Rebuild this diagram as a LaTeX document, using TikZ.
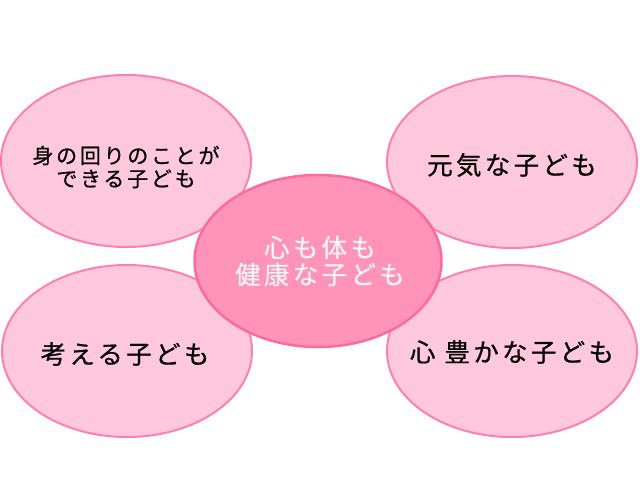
\documentclass[tikz,border=0pt]{standalone}
\usepackage{fontspec}
\usetikzlibrary{shapes.geometric}
\newfontfamily\jpfont[LetterSpace=13, FakeBold=0.6]{Noto Sans CJK JP}
\definecolor{petal}{HTML}{FFC8DC}
\definecolor{petalline}{HTML}{FF80B0}
\definecolor{heart}{HTML}{FF94B8}
\definecolor{heartline}{HTML}{FF6A9E}
\definecolor{hearttext}{HTML}{F4F4F4}

\begin{document}
\begin{tikzpicture}[x=1pt, y=-1pt,
    petalbox/.style={ellipse, draw=petalline, fill=petal, line width=2pt,
      minimum width=250pt, minimum height=172pt, inner sep=0pt},
    heartbox/.style={ellipse, draw=heartline, fill=heart, line width=2.5pt,
      minimum width=247pt, minimum height=172pt, inner sep=0pt},
    words/.style={align=center, inner sep=0pt,
      font=\jpfont\fontsize{25.5}{27}\selectfont}]
  \useasboundingbox (0, 0) rectangle (640, 480);

  % four outer ellipses
  \node (mimawari) [petalbox] at (126, 161) {};
  \node (genki) [petalbox] at (512, 162) {};
  \node (kangaeru) [petalbox] at (127, 351) {};
  \node (yutaka) [petalbox] at (512, 351) {};

  % centre
  \node (kenkou) [heartbox] at (318, 261) {};

  \node (mimawaritext) [words, font=\jpfont\fontsize{21}{23}\selectfont]
    at (126, 167) {身の回りのことが \\ できる子ども};
  \node (genkitext) [words] at (512, 165) {元気な子ども};
  \node (kangaerutext) [words] at (125, 354) {考える子ども};
  \node (yutakatext) [words] at (512, 352) {心 豊かな子ども};
  \node (kenkoutext) [words, text=hearttext] at (320, 261) {心も体も \\ 健康な子ども};
\end{tikzpicture}
\end{document}
